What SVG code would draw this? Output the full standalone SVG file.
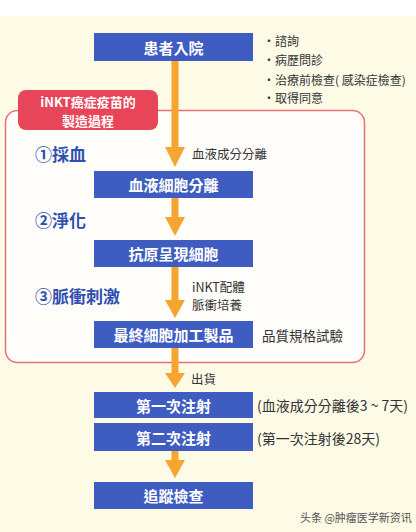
<svg xmlns="http://www.w3.org/2000/svg" width="416" height="532" viewBox="0 0 416 532">
<style>
.box{fill:#3f5cc0}
.bt{fill:#fff;font-family:"Noto Sans CJK TC","Noto Sans CJK SC",sans-serif;font-size:15px;font-weight:bold;text-anchor:middle;dominant-baseline:central}
.st{fill:#2e4fae;font-family:"Noto Sans CJK TC","Noto Sans CJK SC",sans-serif;font-size:17px;font-weight:bold;dominant-baseline:central}
.nt{fill:#333;font-family:"Noto Sans CJK TC","Noto Sans CJK SC",sans-serif;font-size:12px;dominant-baseline:central}
.sm{fill:#333;font-family:"Noto Sans CJK TC","Noto Sans CJK SC",sans-serif;font-size:12.5px;dominant-baseline:central}
.shaft{fill:#f6a630}
.head{fill:#f6a630}
</style>
<rect x="0" y="0" width="416" height="532" fill="#ffffff"/>
<rect x="0" y="16" width="416" height="516" fill="#fdfae6"/>
<g id="process-frame">
<rect x="5.5" y="110.5" width="359" height="252" rx="12" fill="#fffdfa" stroke="#e8707a" stroke-width="1.5"/>
</g>
<g id="connectors">
<rect class="shaft" x="171.5" y="61" width="7" height="87"/>
<polygon class="head" points="165,147 185,147 175,167"/>
<rect class="shaft" x="171.5" y="198" width="7" height="20"/>
<polygon class="head" points="165,217 185,217 175,236"/>
<rect class="shaft" x="171.5" y="267" width="7" height="34"/>
<polygon class="head" points="165,300 185,300 175,318"/>
<rect class="shaft" x="171.5" y="348" width="7" height="26"/>
<polygon class="head" points="165,373 185,373 175,388"/>
<rect class="shaft" x="171.5" y="451" width="7" height="10"/>
<polygon class="head" points="165,460 185,460 175,478"/>
</g>
<g id="label-vaccine">
<rect x="18" y="90" width="140" height="40" rx="8" fill="#e84558"/>
<text class="bt" x="88" y="101" style="font-size:13px">iNKT癌症疫苗的</text>
<text class="bt" x="88" y="120" style="font-size:13px">製造過程</text>
</g>
<g id="n-admit">
<rect class="box" x="94" y="33" width="159" height="28"/>
<text class="bt" x="173.5" y="47">患者入院</text>
</g>
<g id="admit-notes">
<text class="nt" x="263" y="40">・諮詢</text>
<text class="nt" x="263" y="59">・病歷問診</text>
<text class="nt" x="263" y="79">・治療前檢查( 感染症檢查)</text>
<text class="nt" x="263" y="97">・取得同意</text>
</g>
<g id="step1">
<text class="st" x="35" y="153">①採血</text>
<text class="sm" x="192" y="153">血液成分分離</text>
</g>
<g id="n-separation">
<rect class="box" x="94" y="171" width="159" height="27"/>
<text class="bt" x="173.5" y="184.5">血液細胞分離</text>
</g>
<g id="step2">
<text class="st" x="35" y="219">②淨化</text>
</g>
<g id="n-apc">
<rect class="box" x="94" y="240" width="159" height="27"/>
<text class="bt" x="173.5" y="253.5">抗原呈現細胞</text>
</g>
<g id="step3">
<text class="st" x="35" y="295">③脈衝刺激</text>
<text class="sm" x="192" y="286">iNKT配體</text>
<text class="sm" x="192" y="304">脈衝培養</text>
</g>
<g id="n-final">
<rect class="box" x="94" y="321" width="159" height="27"/>
<text class="bt" x="173.5" y="334.5">最終細胞加工製品</text>
<text class="nt" x="262" y="335" style="font-size:13.5px">品質規格試驗</text>
</g>
<g id="ship">
<text class="sm" x="191" y="378">出貨</text>
</g>
<g id="n-inj1">
<rect class="box" x="94" y="392" width="159" height="26"/>
<text class="bt" x="173.5" y="405">第一次注射</text>
<text class="nt" x="257" y="405" style="font-size:14px">(血液成分分離後3 ~ 7天)</text>
</g>
<g id="n-inj2">
<rect class="box" x="94" y="423" width="159" height="28"/>
<text class="bt" x="173.5" y="437">第二次注射</text>
<text class="nt" x="257" y="438" style="font-size:14px">(第一次注射後28天)</text>
</g>
<g id="n-follow">
<rect class="box" x="94" y="482" width="159" height="27"/>
<text class="bt" x="173.5" y="495.5">追蹤檢查</text>
</g>
<text x="300" y="517" fill="#555" font-family="Noto Sans CJK SC, sans-serif" font-size="11" dominant-baseline="central">头条 @肿瘤医学新资讯</text>
</svg>
